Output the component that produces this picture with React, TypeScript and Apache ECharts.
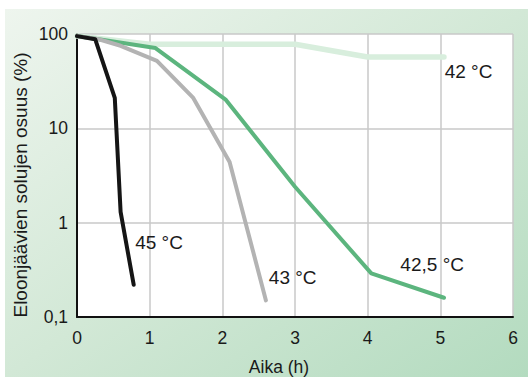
import React, { useEffect, useRef } from "react";
import * as echarts from "echarts";

const xTicks = [0, 1, 2, 3, 4, 5, 6];
const yTicks = [0.1, 1, 10, 100];

const s42: [number, number][] = [[0, 95], [1, 78], [3, 78], [4, 57], [5.05, 57]];
const s425: [number, number][] = [[0, 95], [0.3, 88], [1.08, 71], [2.05, 20], [3, 2.4], [4.05, 0.29], [5.05, 0.16]];
const s43: [number, number][] = [[0, 95], [0.3, 88], [0.6, 75], [1.1, 52], [1.6, 21], [2.1, 4.4], [2.6, 0.15]];
const s45: [number, number][] = [[0, 95], [0.25, 88], [0.52, 21], [0.6, 1.3], [0.78, 0.22]];

const seriesNames = ["42 °C", "42,5 °C", "43 °C", "45 °C"];
const labelPos: [number, number][] = [[5.06, 40], [4.45, 0.36], [2.64, 0.26], [0.8, 0.62]];

const xName = "Aika (h)";
const yName = "Eloonjäävien solujen osuus (%)";

export default function App() {
  const ref = useRef<HTMLDivElement>(null);
  useEffect(() => {
    if (!ref.current) return;
    const chart = echarts.init(ref.current, undefined, { renderer: "svg" });
    const font = "Liberation Sans, Arial, sans-serif";
    const mk = (name: string, data: [number, number][], color: string, width: number, lp: [number, number]) => ({
      type: "line",
      name,
      data,
      symbol: "none",
      lineStyle: { color, width, join: "round", cap: "round" },
      z: 3,
      markPoint: {
        symbol: "circle",
        symbolSize: 0,
        data: [{ coord: lp, value: name }],
        label: {
          show: true,
          position: "right",
          distance: 0,
          formatter: name,
          color: "#1a1a1a",
          fontSize: 19,
          fontFamily: font,
        },
      },
    });
    chart.setOption({
      animation: false,
      graphic: [
        {
          type: "rect",
          shape: { x: 5, y: 9, width: 523, height: 368 },
          style: {
            fill: new echarts.graphic.LinearGradient(0, 0, 1, 1, [
              { offset: 0, color: "#eef5ee" },
              { offset: 0.5, color: "#d2e8d6" },
              { offset: 1, color: "#b3dbbf" },
            ]),
          },
          z: -10,
          silent: true,
        },
        {
          type: "text",
          x: 279,
          y: 367,
          style: {
            text: xName,
            fill: "#1a1a1a",
            fontSize: 17.5,
            fontFamily: font,
            textAlign: "center",
            textVerticalAlign: "middle",
          },
        },
        {
          type: "text",
          x: 20,
          y: 185,
          rotation: Math.PI / 2,
          style: {
            text: yName,
            fill: "#1a1a1a",
            fontSize: 19,
            fontFamily: font,
            textAlign: "center",
            textVerticalAlign: "middle",
          },
        },
      ],
      grid: {
        left: 77,
        right: 15,
        top: 34,
        bottom: 60,
        show: true,
        backgroundColor: "#ffffff",
        borderWidth: 0,
      },
      xAxis: {
        type: "value",
        min: 0,
        max: 6,
        interval: 1,
        axisLine: { show: true, lineStyle: { color: "#111", width: 2 } },
        axisTick: { show: false },
        axisLabel: {
          color: "#1a1a1a",
          fontSize: 17.5,
          fontFamily: font,
          margin: 12,
          formatter: (v: number) => (xTicks.includes(v) ? String(v) : ""),
        },
        splitLine: { show: true, lineStyle: { color: "#c8c8c8", width: 1.5 } },
      },
      yAxis: {
        type: "log",
        logBase: 10,
        min: 0.1,
        max: 100,
        axisLine: { show: true, lineStyle: { color: "#111", width: 2 } },
        axisTick: { show: false },
        axisLabel: {
          color: "#1a1a1a",
          fontSize: 17.5,
          fontFamily: font,
          margin: 9,
          formatter: (v: number) => {
            const t = yTicks.find((y) => Math.abs(y - v) / y < 1e-6);
            return t === undefined ? "" : String(t).replace(".", ",");
          },
        },
        splitLine: { show: true, lineStyle: { color: "#c8c8c8", width: 1.5 } },
      },
      series: [
        mk(seriesNames[0], s42, "#d8eedd", 5.5, labelPos[0]),
        mk(seriesNames[1], s425, "#5cb57e", 4, labelPos[1]),
        mk(seriesNames[2], s43, "#b3b3b3", 4, labelPos[2]),
        mk(seriesNames[3], s45, "#151515", 4, labelPos[3]),
      ],
    });
    return () => chart.dispose();
  }, []);
  return <div ref={ref} style={{ width: 528, height: 377, position: "absolute", left: 0, top: 0 }} />;
}
